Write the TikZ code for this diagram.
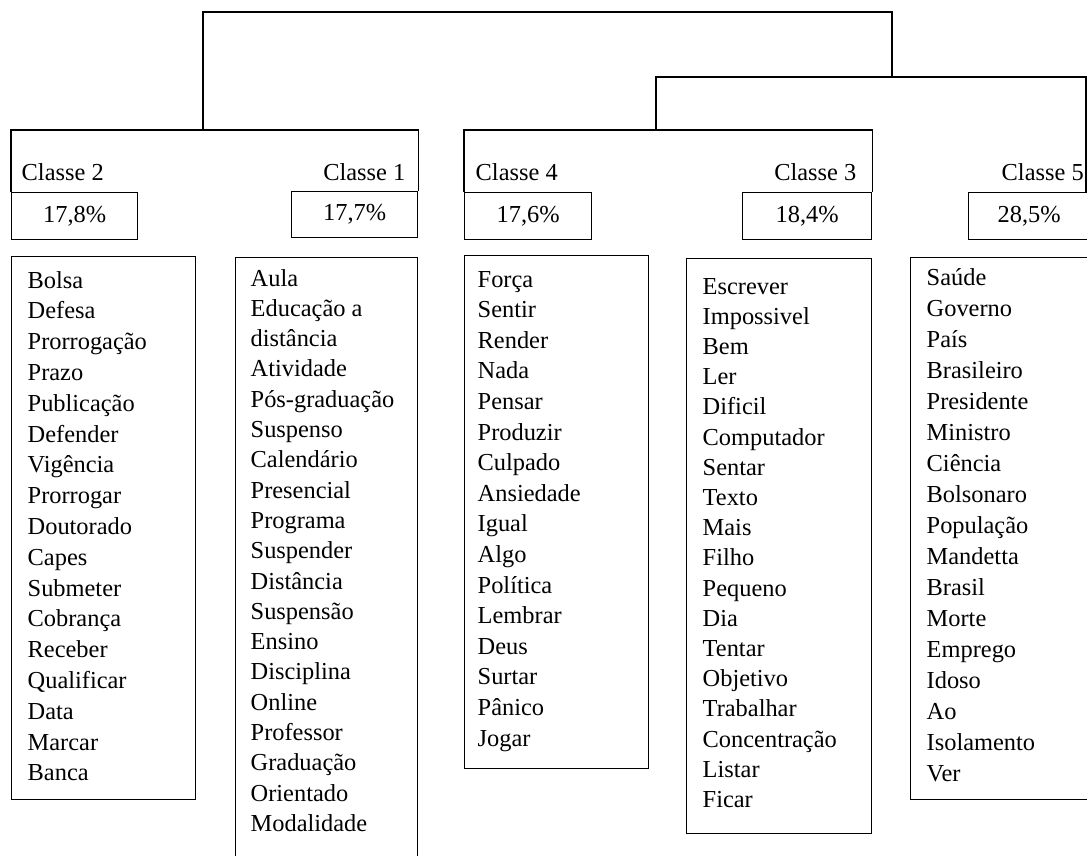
\documentclass[tikz,border=0pt]{standalone}
\usepackage{fontspec}
\setmainfont{Liberation Serif}
\begin{document}
\begin{tikzpicture}[x=0.5pt,y=-0.5pt,line width=0.7pt,
	font=\fontsize{12.2}{14.5}\selectfont,
	lbl/.style={inner sep=0pt},
	pct/.style={draw,anchor=north west,inner sep=0pt,minimum height=23.5pt},
	wbox/.style={draw,anchor=north west,inner sep=0pt},
	word/.style={anchor=base west,inner sep=0pt}]
	\useasboundingbox (0,0) rectangle (1087,856);
	\clip (0,0) rectangle (1087,856);
	\node[lbl,anchor=base west] (c2) at (21,180) {Classe 2};
	\node[lbl,anchor=base east] (c1) at (406,180) {Classe 1};
	\node[lbl,anchor=base west] (c4) at (475,180) {Classe 4};
	\node[lbl,anchor=base east] (c3) at (857,180) {Classe 3};
	\node[lbl,anchor=base west] (c5) at (1001,180) {Classe 5};
	\node[pct,minimum width=63pt] (p2) at (11,192) {17,8\%};
	\node[pct,minimum width=63pt,minimum height=23pt] (p1) at (291,191) {17,7\%};
	\node[pct,minimum width=63.5pt] (p4) at (464,192) {17,6\%};
	\node[pct,minimum width=64.5pt] (p3) at (742,192) {18,4\%};
	\node[pct,minimum width=60.5pt] (p5) at (968,192) {28,5\%};
	\coordinate (j21) at (203,130);
	\coordinate (j43) at (656,130);
	\coordinate (j543) at (892,77);
	\coordinate (jtop) at (550,12);
	\coordinate (e5) at (1086,192);
	\draw (p2.north west) |- (j21) -| (p1.north east);
	\draw (p4.north west) |- (j43) -| (p3.north east);
	\draw (j21) |- (jtop) -| (j543);
	\draw (j43) |- (j543) -| (e5);
	\node[wbox,minimum width=92pt,minimum height=271.5pt] (w2) at (11,256) {};
	\node[wbox,minimum width=91pt,minimum height=306.5pt] (w1) at (235,257) {};
	\node[wbox,minimum width=92pt,minimum height=256.5pt] (w4) at (464,255) {};
	\node[wbox,minimum width=92.5pt,minimum height=287.5pt] (w3) at (686,258) {};
	\node[wbox,minimum width=95pt,minimum height=271pt] (w5) at (910,257) {};
	\foreach \w [count=\i from 0] in {Bolsa,Defesa,Prorrogação,Prazo,Publicação,Defender,Vigência,Prorrogar,Doutorado,Capes,Submeter,Cobrança,Receber,Qualificar,Data,Marcar,Banca}
		\node[word] (t2-\i) at (27,288+\i*30.8) {\w};
	\foreach \w [count=\i from 0] in {Aula,Educação a,distância,Atividade,Pós-graduação,Suspenso,Calendário,Presencial,Programa,Suspender,Distância,Suspensão,Ensino,Disciplina,Online,Professor,Graduação,Orientado,Modalidade}
		\node[word] (t1-\i) at (250,286+\i*30.3) {\w};
	\foreach \w [count=\i from 0] in {Força,Sentir,Render,Nada,Pensar,Produzir,Culpado,Ansiedade,Igual,Algo,Política,Lembrar,Deus,Surtar,Pânico,Jogar}
		\node[word] (t4-\i) at (477,287+\i*30.6) {\w};
	\foreach \w [count=\i from 0] in {Escrever,Impossivel,Bem,Ler,Dificil,Computador,Sentar,Texto,Mais,Filho,Pequeno,Dia,Tentar,Objetivo,Trabalhar,Concentração,Listar,Ficar}
		\node[word] (t3-\i) at (702,294+\i*30.2) {\w};
	\foreach \w [count=\i from 0] in {Saúde,Governo,País,Brasileiro,Presidente,Ministro,Ciência,Bolsonaro,População,Mandetta,Brasil,Morte,Emprego,Idoso,Ao,Isolamento,Ver}
		\node[word] (t5-\i) at (926,285+\i*31) {\w};
\end{tikzpicture}
\end{document}
